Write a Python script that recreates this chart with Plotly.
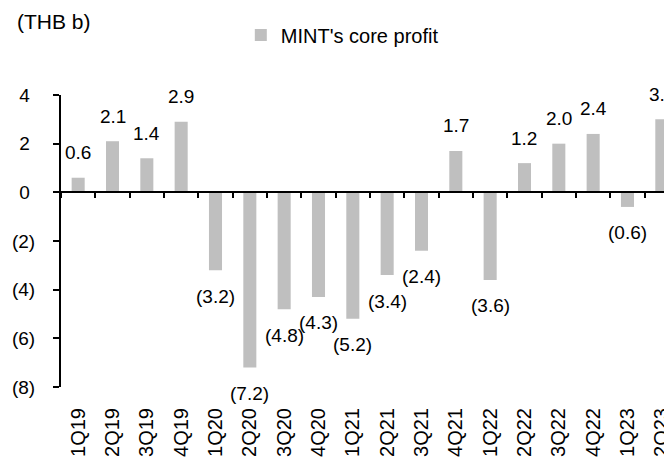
import plotly.graph_objects as go

categories = ["1Q19", "2Q19", "3Q19", "4Q19", "1Q20", "2Q20", "3Q20", "4Q20",
              "1Q21", "2Q21", "3Q21", "4Q21", "1Q22", "2Q22", "3Q22", "4Q22",
              "1Q23", "2Q23"]
core_profit = [0.6, 2.1, 1.4, 2.9, -3.2, -7.2, -4.8, -4.3,
               -5.2, -3.4, -2.4, 1.7, -3.6, 1.2, 2.0, 2.4,
               -0.6, 3.0]
y_ticks = [4, 2, 0, -2, -4, -6, -8]
y_tick_labels = ["4\u00a0", "2\u00a0", "0\u00a0", "(2)", "(4)", "(6)", "(8)"]
series_name = "MINT's core profit"
unit_label = "(THB b)"

FONT = "Liberation Sans, Arial, sans-serif"
BAR_COLOR = "#bfbfbf"
Y_MIN, Y_MAX = -8, 4
X_RANGE = [-0.5, 17.18]
W, H = 664, 450
ML, MT, MB, MR = 53, 87, 71, 0
PW = W - ML - MR
PH = H - MT - MB


def fmt(v):
    return f"{v:.1f}" if v >= 0 else f"({abs(v):.1f})"


fig = go.Figure()
fig.add_trace(go.Bar(
    x=categories, y=core_profit, name=series_name,
    marker=dict(color=BAR_COLOR, line=dict(width=0)),
    width=0.38, xaxis="x", yaxis="y", hoverinfo="x+y",
))
# invisible trace carrying the bottom category labels
fig.add_trace(go.Scatter(
    x=categories, y=core_profit, mode="none", showlegend=False,
    hoverinfo="skip", xaxis="x2", yaxis="y",
))

for c, v in zip(categories, core_profit):
    fig.add_annotation(
        x=c, y=v, xref="x", yref="y", text=fmt(v), showarrow=False,
        yshift=25 if v >= 0 else -26, yanchor="middle", xanchor="center",
        font=dict(family=FONT, size=19, color="black"),
    )

fig.add_annotation(
    x=(7 - ML) / PW, y=1 + (MT - 13) / PH, xref="paper", yref="paper",
    text=unit_label, showarrow=False, xanchor="left", yanchor="middle",
    font=dict(family=FONT, size=21, color="black"),
)

zero_pos = (0 - Y_MIN) / (Y_MAX - Y_MIN)

fig.update_layout(
    width=W, height=H,
    margin=dict(l=ML, r=MR, t=MT, b=MB),
    paper_bgcolor="white", plot_bgcolor="white",
    font=dict(family=FONT, size=19, color="black"),
    showlegend=True,
    legend=dict(orientation="h", x=(234 - ML) / PW, xanchor="left",
                y=1 + (MT - 27) / PH, yanchor="middle",
                font=dict(family=FONT, size=20),
                bgcolor="rgba(0,0,0,0)", itemwidth=30),
    xaxis=dict(
        type="category", range=X_RANGE, anchor="free", position=zero_pos,
        showline=True, linecolor="black", linewidth=2,
        ticks="outside", tickson="boundaries", ticklen=5, tickwidth=2,
        tickcolor="black", showticklabels=False, showgrid=False,
        zeroline=False, fixedrange=True,
    ),
    xaxis2=dict(
        type="category", range=X_RANGE, overlaying="x", anchor="y",
        side="bottom", showline=False, ticks="", showgrid=False,
        tickangle=-90, ticklabelstandoff=16,
        tickfont=dict(family=FONT, size=20, color="black"),
        zeroline=False, fixedrange=True,
    ),
    yaxis=dict(
        range=[Y_MIN, Y_MAX], tickvals=y_ticks, ticktext=y_tick_labels,
        showline=True, linecolor="black", linewidth=2,
        ticks="outside", ticklen=6, tickwidth=2, tickcolor="black",
        ticklabelstandoff=14, showgrid=False, zeroline=False,
        tickfont=dict(family=FONT, size=19, color="black"),
        fixedrange=True,
    ),
)

fig.write_html("out.html")
